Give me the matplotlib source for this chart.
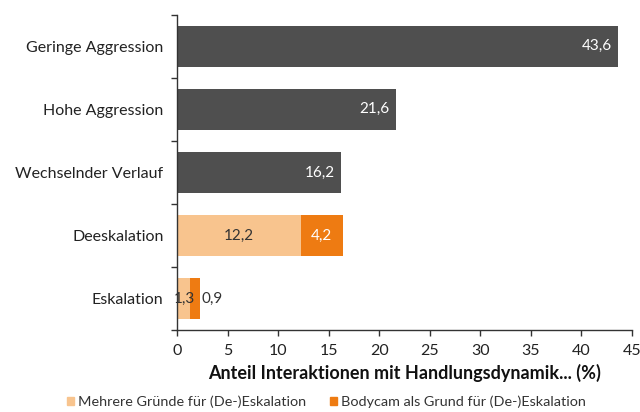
import matplotlib
matplotlib.use("Agg")
import matplotlib.pyplot as plt
from matplotlib.patches import Patch

plt.rcParams['font.family'] = ['Lato', 'DejaVu Sans']

categories = ["Geringe Aggression", "Hohe Aggression", "Wechselnder Verlauf", "Deeskalation", "Eskalation"]
total_values = [43.6, 21.6, 16.2, None, None]
mehrere = [None, None, None, 12.2, 1.3]
bodycam = [None, None, None, 4.2, 0.9]
xticks = [0, 5, 10, 15, 20, 25, 30, 35, 40, 45]
xlabel = "Anteil Interaktionen mit Handlungsdynamik... (%)"
legend_labels = ["Mehrere Gründe für (De-)Eskalation", "Bodycam als Grund für (De-)Eskalation"]

dark = "#4f4f4f"
light = "#f8c48e"
orange = "#ee7b12"

def fmt(v):
    return f"{v:.1f}".replace(".", ",")

fig = plt.figure(figsize=(6.4, 4.12), dpi=100)
ax = fig.add_axes([0.277, 0.199, 0.7105, 0.765])

h = 0.65
for i, cat in enumerate(categories):
    if total_values[i] is not None:
        v = total_values[i]
        ax.barh(i, v, height=h, color=dark)
        ax.text(v - 0.6, i, fmt(v), ha="right", va="center", color="white", fontsize=11)
    else:
        m, b = mehrere[i], bodycam[i]
        ax.barh(i, m, height=h, color=light)
        ax.barh(i, b, left=m, height=h, color=orange)
        if m > 5:
            ax.text(m / 2, i, fmt(m), ha="center", va="center", color="#333333", fontsize=11)
            ax.text(m + b / 2, i, fmt(b), ha="center", va="center", color="white", fontsize=11)
        else:
            ax.text(m / 2 + 0.1, i, fmt(m), ha="center", va="center", color="#333333", fontsize=11)
            ax.text(m + b + 0.2, i, fmt(b), ha="left", va="center", color="#333333", fontsize=11)

ax.set_ylim(len(categories) - 0.5, -0.5)
ax.set_xlim(0, 45)
ax.set_yticks(range(len(categories)))
ax.set_yticklabels(categories, fontsize=11.5, color="#222222")
ax.set_yticks([i - 0.5 for i in range(len(categories) + 1)], minor=True)
ax.tick_params(axis="y", which="major", length=0, pad=10)
ax.tick_params(axis="y", which="minor", length=4, width=1, color="#333333")
ax.set_xticks(xticks)
ax.set_xticklabels([str(t) for t in xticks], fontsize=11.5, color="#222222")
ax.tick_params(axis="x", length=4, width=1, color="#333333", pad=6)

for s in ["top", "right"]:
    ax.spines[s].set_visible(False)
for s in ["left", "bottom"]:
    ax.spines[s].set_color("#333333")
    ax.spines[s].set_linewidth(1)

ax.set_xlabel(xlabel, fontsize=13, fontweight="bold", color="#111111", labelpad=4)

handles = [Patch(color=light), Patch(color=orange)]
fig.legend(handles, legend_labels, loc="center", bbox_to_anchor=(0.51, 0.024), ncol=2,
           frameon=False, fontsize=10.4, handlelength=0.5, handleheight=0.5,
           handletextpad=0.3, columnspacing=1.6, labelcolor="#333333")

fig.savefig("out.png", dpi=100, facecolor="white")
